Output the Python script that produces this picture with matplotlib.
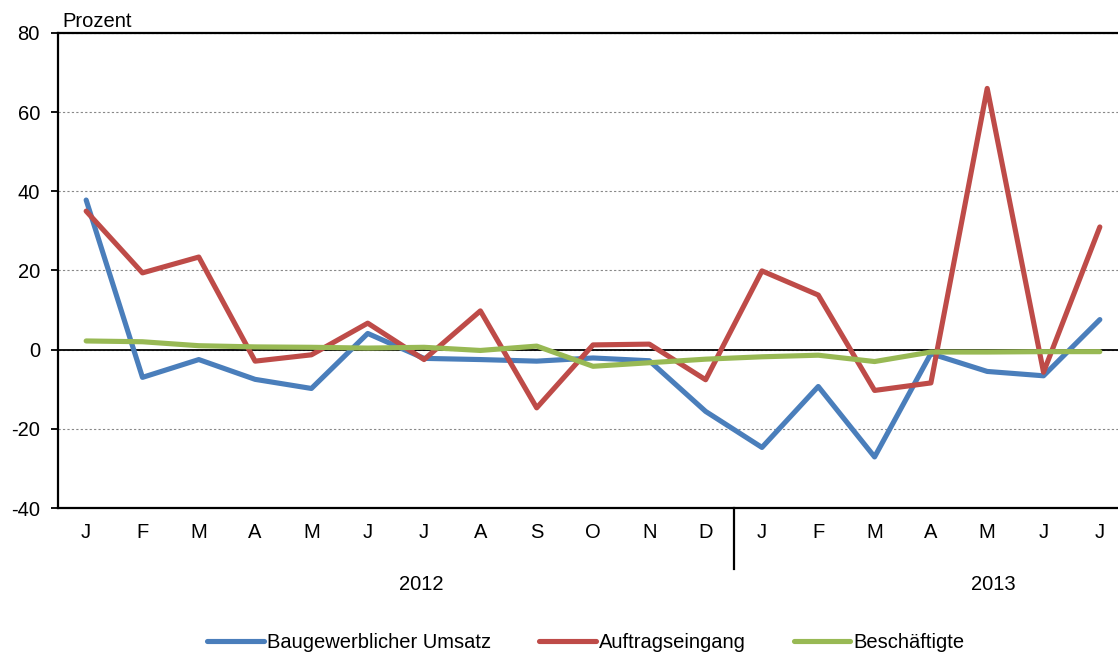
import matplotlib.pyplot as plt

plt.rcParams['font.family'] = ['Liberation Sans', 'DejaVu Sans']
plt.rcParams['axes.unicode_minus'] = False

months = ['J', 'F', 'M', 'A', 'M', 'J', 'J', 'A', 'S', 'O', 'N', 'D',
          'J', 'F', 'M', 'A', 'M', 'J', 'J']
years = ['2012', '2013']

umsatz = [37.8, -7.0, -2.5, -7.5, -9.8, 4.1, -2.2, -2.5, -2.9, -2.1, -2.8, -15.6,
          -24.7, -9.3, -27.1, -1.0, -5.5, -6.6, 7.6]
auftrag = [35.0, 19.4, 23.4, -2.9, -1.3, 6.7, -2.5, 9.8, -14.7, 1.2, 1.4, -7.6,
           19.9, 13.8, -10.3, -8.4, 66.0, -5.7, 31.0]
beschaeftigte = [2.2, 2.0, 1.0, 0.7, 0.6, 0.4, 0.6, -0.2, 0.9, -4.2, -3.3, -2.4,
                 -1.8, -1.4, -3.0, -0.6, -0.6, -0.5, -0.5]

fs = 14.5

fig = plt.figure(figsize=(11.18, 6.57), dpi=100)
# axes runs a little past the right edge of the figure, like the original
ax = fig.add_axes([58 / 1118, 1 - 508 / 657, 1070 / 1118, 475 / 657])

x = list(range(len(months)))
ax.plot(x, umsatz, color='#4A7EBB', lw=3.7, label='Baugewerblicher Umsatz', solid_capstyle='round')
ax.plot(x, auftrag, color='#BE4B48', lw=3.7, label='Auftragseingang', solid_capstyle='round')
ax.plot(x, beschaeftigte, color='#98B954', lw=3.7, label='Beschäftigte', solid_capstyle='round')

ax.axhline(0, color='black', lw=1.3, zorder=1)
ax.set_xlim(-0.5, len(months) - 0.5)
ax.set_ylim(-40, 80)
ax.set_yticks(range(-40, 81, 20))
ax.grid(axis='y', linestyle=(0, (2, 2)), color='#888888', lw=0.8)
ax.set_axisbelow(True)

ax.set_xticks(x)
ax.set_xticklabels(months)
ax.tick_params(axis='x', length=0, pad=11, labelsize=fs)
ax.tick_params(axis='y', length=5, width=1.3, labelsize=fs, direction='out', pad=8)

for side in ['left', 'bottom', 'top']:
    ax.spines[side].set_linewidth(1.6)
ax.spines['right'].set_visible(False)

# year separator and labels
ax.plot([11.5, 11.5], [-40, -55.5], color='black', lw=1.6, clip_on=False)
ax.text(5.95, -59.2, years[0], ha='center', va='center', fontsize=fs)
ax.text(16.1, -59.2, years[1], ha='center', va='center', fontsize=fs)

ax.text(0.004, 1.004, 'Prozent', transform=ax.transAxes, ha='left', va='bottom', fontsize=fs)

fig.legend(loc='center', bbox_to_anchor=(586 / 1118, 1 - 643 / 657), ncol=3, frameon=False,
           fontsize=fs, handlelength=2.8, handletextpad=0.15, columnspacing=2.4)

fig.savefig('out.png', dpi=100)
